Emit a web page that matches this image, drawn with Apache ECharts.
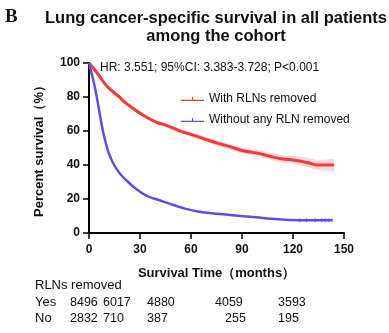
<!DOCTYPE html>
<html>
<head>
<meta charset="utf-8">
<script src="https://cdn.jsdelivr.net/npm/echarts@6/dist/echarts.min.js"></script>
<style>
  html, body { margin: 0; padding: 0; background: #fff; }
  #chart { width: 389px; height: 333px; }
</style>
</head>
<body>
<div id="chart"></div>
<script>
// survival curves (months, percent)
const redT = [0, 3, 6, 10, 13, 17.5, 21, 25, 30, 35, 40, 45, 50, 55, 60, 67, 75, 83, 90, 99, 107, 114, 120, 126, 130, 134, 140, 144];
const redS = [100, 96.5, 92.5, 87, 84, 80.3, 77, 74, 70.5, 67.5, 65, 63.5, 61.5, 59.5, 58, 55.7, 53, 50.8, 48.5, 47, 45, 43.5, 43, 42, 41, 40, 40, 40];
const redBand = [0, 0.3, 0.5, 0.6, 0.7, 0.8, 0.9, 1, 1, 1.1, 1.2, 1.2, 1.3, 1.3, 1.4, 1.5, 1.6, 1.7, 1.8, 1.9, 2, 2.2, 2.4, 2.6, 2.8, 3, 3.2, 3.3];
const blueT = [0, 2.5, 4.5, 6.5, 8.4, 10.4, 12, 14, 16, 19, 23, 27, 31, 36, 41, 48, 56, 65, 75, 83, 95, 105, 120, 130, 143];
const blueS = [100, 90, 80.5, 69, 59, 51, 46, 41.5, 38, 34, 30, 26.5, 23.5, 21, 19.4, 17, 14.5, 12.5, 11.3, 10.6, 9.5, 8.6, 7.6, 7.5, 7.5];
const blueCensor = [124, 128, 133, 137, 139, 141, 143];

const xTicks = [0, 30, 60, 90, 120, 150];
const yTicks = [0, 20, 40, 60, 80, 100];

// number at risk table
const riskCols = [0, 30, 60, 90, 120];
const riskYes = [8496, 6017, 4880, 4059, 3593];
const riskNo = [2832, 710, 387, 255, 195];

const titleLines = ['Lung cancer-specific survival in all patients', 'among the cohort'];

const RED = '#ef3b3b';
const BLUE = '#5b4fe6';

const pairs = (ts, vs) => ts.map((t, i) => [t, vs[i]]);

function band(ts, vs, ws, color) {
  return {
    type: 'custom',
    silent: true,
    z: 1,
    data: [0],
    renderItem(params, api) {
      const up = ts.map((t, i) => api.coord([t, vs[i] + ws[i]]));
      const lo = ts.map((t, i) => api.coord([t, vs[i] - ws[i]])).reverse();
      return {
        type: 'polygon',
        shape: { points: up.concat(lo), smooth: 0.3 },
        style: { fill: color },
      };
    },
  };
}

const chart = echarts.init(document.getElementById('chart'));
const font = 'Liberation Sans, Arial, sans-serif';
const colX = [70, 103, 147, 215, 278];
const colXNo = [70, 103, 147, 225, 278];
const icon = 'path://M0,4.4h24v1.2h-24z M11.4,1.6h1.2v3h-1.2z';

chart.setOption({
  animation: false,
  textStyle: { fontFamily: font },
  grid: { left: 89, right: 45, top: 63, bottom: 100 },
  legend: {
    orient: 'vertical',
    left: 176,
    top: 88,
    itemGap: 9,
    itemWidth: 23,
    itemHeight: 8,
    textStyle: { fontFamily: font, fontSize: 12, color: '#111' },
    data: [
      { name: 'With RLNs removed', icon: icon },
      { name: 'Without any RLN removed', icon: icon },
    ],
  },
  xAxis: {
    type: 'value',
    min: 0,
    max: 150,
    interval: 30,
    name: 'Survival Time（months）',
    nameLocation: 'middle',
    nameGap: 34,
    nameTextStyle: { fontFamily: font, fontSize: 13, fontWeight: 'bold', color: '#111' },
    axisLine: { lineStyle: { color: '#000', width: 2 } },
    axisTick: { length: 6, lineStyle: { color: '#000', width: 1.5 } },
    axisLabel: { margin: 11, fontSize: 12, fontWeight: 'bold', color: '#111', formatter: v => xTicks.includes(v) ? String(v) : '' },
    splitLine: { show: false },
  },
  yAxis: {
    type: 'value',
    min: 0,
    max: 100,
    interval: 20,
    name: 'Percent survival（%）',
    nameLocation: 'middle',
    nameGap: 43,
    nameTextStyle: { fontFamily: font, fontSize: 13, fontWeight: 'bold', color: '#111' },
    axisLine: { show: true, lineStyle: { color: '#000', width: 2 } },
    axisTick: { show: true, length: 6, lineStyle: { color: '#000', width: 1.5 } },
    axisLabel: { margin: 9, fontSize: 12, fontWeight: 'bold', color: '#111', formatter: v => yTicks.includes(v) ? String(v) : '' },
    splitLine: { show: false },
  },
  graphic: [
    { type: 'text', left: 5, top: 8, style: { text: 'B', font: 'bold 19px "Liberation Serif", "Times New Roman", serif', fill: '#111' } },
    { type: 'text', x: 216, y: 18, style: { text: titleLines[0], font: 'bold 16.5px ' + font, fill: '#111', align: 'center', verticalAlign: 'middle' } },
    { type: 'text', x: 216, y: 36, style: { text: titleLines[1], font: 'bold 16.5px ' + font, fill: '#111', align: 'center', verticalAlign: 'middle' } },
    { type: 'text', left: 100, top: 62, style: { text: 'HR: 3.551; 95%CI: 3.383-3.728; P<0.001', font: '12px ' + font, fill: '#111' } },
    { type: 'text', left: 35, top: 279, style: { text: 'RLNs removed', font: '13px ' + font, fill: '#111' } },
    { type: 'text', left: 35, top: 296, style: { text: 'Yes', font: '13px ' + font, fill: '#111' } },
    { type: 'text', left: 35, top: 312, style: { text: 'No', font: '13px ' + font, fill: '#111' } },
  ].concat(
    riskCols.map((c, i) => ({ type: 'text', left: colX[i], top: 296, style: { text: String(riskYes[i]), font: '12.5px ' + font, fill: '#111' } })),
    riskCols.map((c, i) => ({ type: 'text', left: colXNo[i], top: 312, style: { text: String(riskNo[i]), font: '12.5px ' + font, fill: '#111' } }))
  ),
  series: [
    band(redT, redS, redBand, 'rgba(239,59,59,0.2)'),
    {
      name: 'With RLNs removed',
      type: 'line',
      data: pairs(redT, redS),
      smooth: 0.3,
      showSymbol: false,
      color: RED,
      lineStyle: { color: RED, width: 3 },
      z: 3,
    },
    {
      name: 'Without any RLN removed',
      type: 'line',
      data: pairs(blueT, blueS),
      smooth: 0.3,
      showSymbol: false,
      color: BLUE,
      lineStyle: { color: BLUE, width: 2.5 },
      z: 3,
    },
    {
      type: 'scatter',
      data: blueCensor.map(t => [t, blueS[blueS.length - 1]]),
      symbol: 'rect',
      symbolSize: [1, 4],
      itemStyle: { color: BLUE },
      silent: true,
      z: 4,
    },
  ],
});
</script>
</body>
</html>
